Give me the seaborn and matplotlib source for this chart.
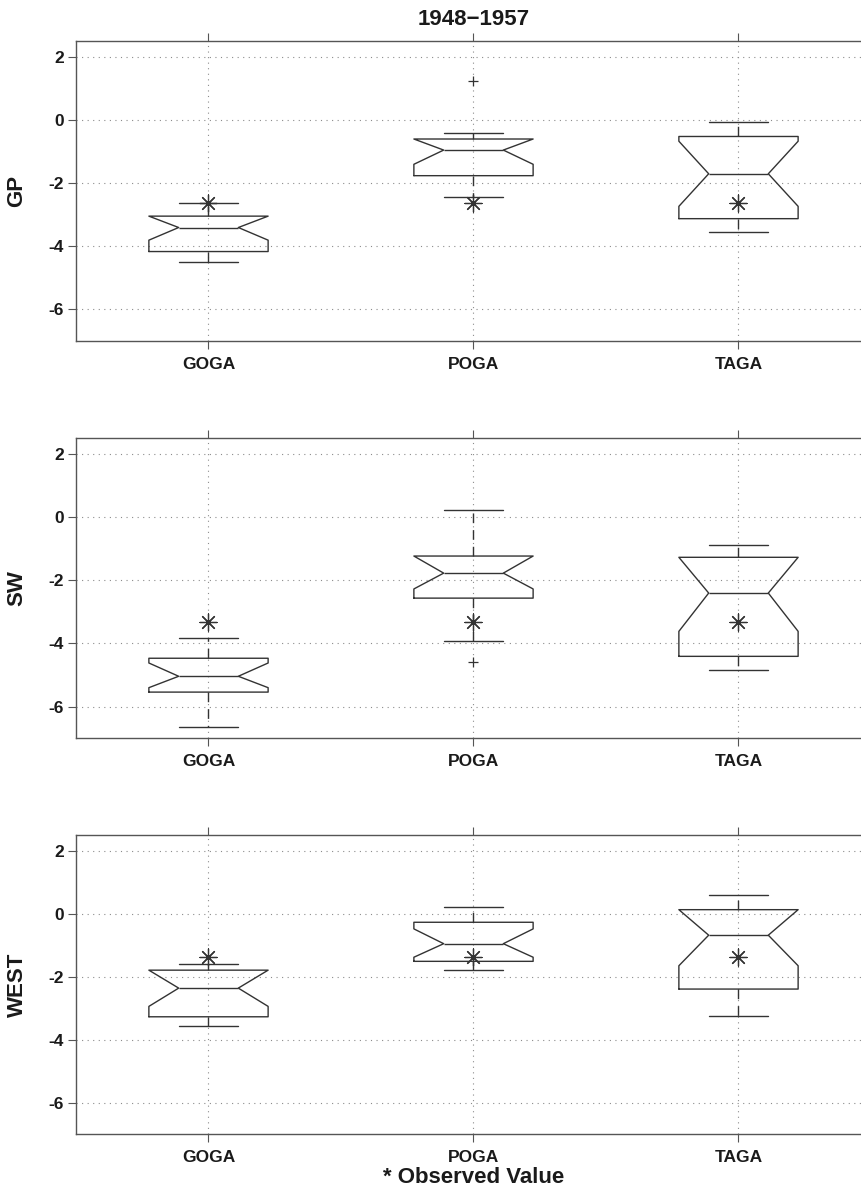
import matplotlib
matplotlib.use("Agg")
import matplotlib.pyplot as plt
import seaborn as sns
import pandas as pd

# Ensemble spread of three model sets for three regions, 1948-1957
models = ["GOGA", "POGA", "TAGA"]
regions = ["GP", "SW", "WEST"]
observed = [-2.62, -3.31, -1.37]

# one row per region, one column per model
lower_whisker = [[-4.50, -2.45, -3.54], [-6.64, -3.91, -4.84], [-3.56, -1.79, -3.24]]
q1 = [[-4.17, -1.77, -3.13], [-5.54, -2.57, -4.41], [-3.27, -1.51, -2.39]]
notch_low = [[-3.81, -1.41, -2.74], [-5.40, -2.28, -3.62], [-2.94, -1.38, -1.65]]
median = [[-3.41, -0.96, -1.71], [-5.04, -1.78, -2.41], [-2.36, -0.95, -0.68]]
notch_high = [[-3.05, -0.61, -0.68], [-4.62, -1.24, -1.28], [-1.79, -0.48, 0.13]]
q3 = [[-3.05, -0.61, -0.53], [-4.47, -1.24, -1.28], [-1.79, -0.27, 0.13]]
upper_whisker = [[-2.62, -0.43, -0.07], [-3.82, 0.23, -0.88], [-1.60, 0.20, 0.60]]
outliers = [[[], [1.24], []], [[], [-4.59], []], [[], [], []]]

y_ticks = [2, 0, -2, -4, -6]

sns.set_theme(style="white")
plt.rcParams["font.family"] = ["Liberation Sans", "DejaVu Sans"]
plt.rcParams["font.weight"] = "bold"

W, H = 862, 1193
fig = plt.figure(figsize=(W / 100, H / 100), dpi=100)

panel_px = [(40.7, 341.0), (437.7, 738.3), (835.0, 1134.3)]
left_px, right_px = 76.0, 871.0

line_col = "#333333"
grid_col = "#8c8c8c"
spine_col = "#555555"
positions = [1, 2, 3]

axes = []
for r, region in enumerate(regions):
    top, bot = panel_px[r]
    ax = fig.add_axes([left_px / W, 1 - bot / H, (right_px - left_px) / W, (bot - top) / H])
    axes.append(ax)

    stats = []
    for m, name in enumerate(models):
        stats.append(dict(
            label=name,
            med=median[r][m], q1=q1[r][m], q3=q3[r][m],
            whislo=lower_whisker[r][m], whishi=upper_whisker[r][m],
            cilo=notch_low[r][m], cihi=notch_high[r][m],
            fliers=outliers[r][m],
        ))

    ax.bxp(
        stats, positions=positions, widths=0.45, shownotches=True,
        showfliers=True, manage_ticks=False,
        boxprops=dict(color=line_col, linewidth=1.0),
        medianprops=dict(color=line_col, linewidth=1.0),
        whiskerprops=dict(color=line_col, linewidth=1.0, linestyle=(0, (7, 5))),
        capprops=dict(color=line_col, linewidth=1.0),
        flierprops=dict(marker="+", markersize=7, markeredgecolor=line_col,
                        markeredgewidth=0.9, linestyle="none"),
        zorder=3,
    )

    obs = pd.DataFrame({"x": positions, "y": [observed[r]] * 3})
    sns.scatterplot(data=obs, x="x", y="y", ax=ax, marker=(8, 2, 0), s=150,
                    color=line_col, linewidth=0.9, zorder=4, legend=False)

    ax.set_xlim(0.5, 3.5)
    ax.set_ylim(-7, 2.5)
    ax.set_xticks(positions)
    ax.set_xticklabels(models)
    ax.set_yticks(y_ticks)
    ax.set_yticklabels([str(t) for t in y_ticks])
    ax.set_xlabel("")
    ax.set_ylabel(region, fontsize=16, fontweight="bold", color="#1a1a1a")
    ax.yaxis.set_label_coords(-0.061, 0.5)

    ax.grid(True, which="major", color=grid_col, linestyle=(0, (1, 4)), linewidth=0.8)
    ax.set_axisbelow(True)

    ax.tick_params(axis="x", which="both", direction="out", length=5.5, width=0.8,
                   color=spine_col, top=True, bottom=True, labeltop=False,
                   labelsize=12.5, pad=6, labelcolor="#1a1a1a")
    ax.tick_params(axis="y", which="both", direction="out", length=5.5, width=0.8,
                   color=spine_col, left=True, right=False,
                   labelsize=12.5, pad=3, labelcolor="#1a1a1a")
    for lab in ax.get_xticklabels() + ax.get_yticklabels():
        lab.set_fontweight("bold")
    for side in ["left", "bottom", "top", "right"]:
        ax.spines[side].set_visible(True)
        ax.spines[side].set_color(spine_col)
        ax.spines[side].set_linewidth(1.0)

axes[0].set_title("1948\u22121957", fontsize=16, fontweight="bold", pad=11, color="#1a1a1a")
axes[-1].set_xlabel("* Observed Value", fontsize=16, fontweight="bold", color="#1a1a1a", labelpad=1)

fig.savefig("out.png", dpi=100, facecolor="white")
